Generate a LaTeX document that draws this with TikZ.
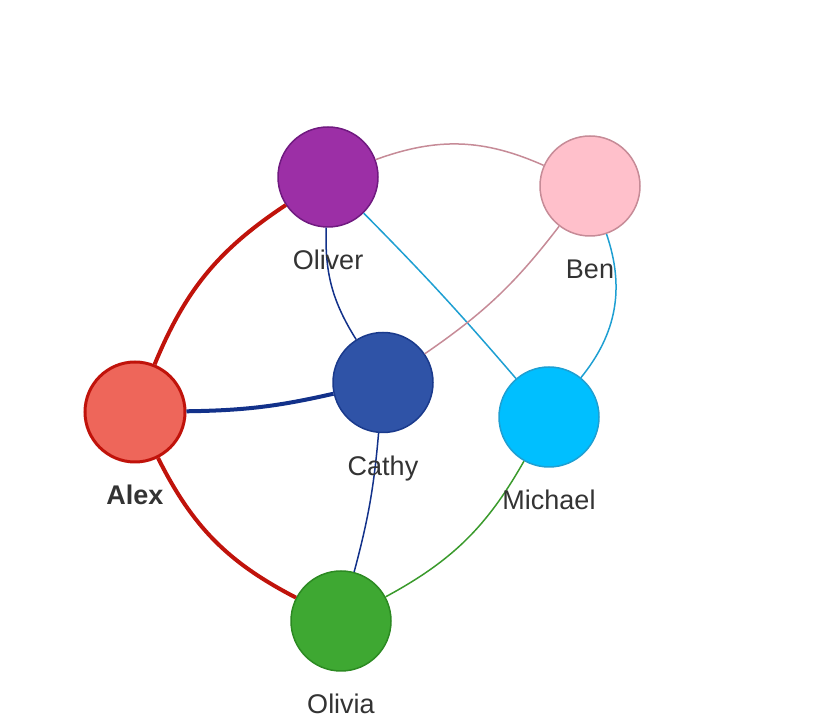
\documentclass[tikz,border=0pt]{standalone}
\usepackage{fontspec}
\setmainfont{Liberation Sans}
\definecolor{oliverFill}{HTML}{9C2FA6}
\definecolor{oliverLine}{HTML}{701A80}
\definecolor{benFill}{HTML}{FFC0CB}
\definecolor{benLine}{HTML}{C68B97}
\definecolor{alexFill}{HTML}{EE665A}
\definecolor{alexLine}{HTML}{C0130B}
\definecolor{cathyFill}{HTML}{2F53A7}
\definecolor{cathyLine}{HTML}{1A3A8C}
\definecolor{michaelFill}{HTML}{00BFFF}
\definecolor{michaelLine}{HTML}{1E9FD2}
\definecolor{oliviaFill}{HTML}{3EA832}
\definecolor{oliviaLine}{HTML}{2C8A22}
\definecolor{navyEdge}{HTML}{12318A}
\definecolor{greenEdge}{HTML}{3A9A2C}
\definecolor{labelText}{HTML}{333333}
\begin{document}
\begin{tikzpicture}[
			x=1pt, y=1pt,
			person/.style={circle, draw, line width=1.5pt, minimum size=100pt, inner sep=0pt},
			personname/.style={anchor=base, text=labelText, font=\fontsize{27}{32}\selectfont},
			thin edge/.style={line width=1.5pt},
			thick edge/.style={line width=4pt}
		]
		\useasboundingbox (0,0) rectangle (814,720);
		\node[person, fill=oliverFill, draw=oliverLine] (oliver) at (328,543) {};
		\node[person, fill=benFill, draw=benLine] (ben) at (590,534) {};
		\node[person, fill=alexFill, draw=alexLine, line width=3pt] (alex) at (135,308) {};
		\node[person, fill=cathyFill, draw=cathyLine] (cathy) at (383,337.5) {};
		\node[person, fill=michaelFill, draw=michaelLine] (michael) at (549,303) {};
		\node[person, fill=oliviaFill, draw=oliviaLine] (olivia) at (341,99) {};
		\draw[thin edge, benLine] (oliver) to[bend left=22] (ben);
		\draw[thick edge, alexLine] (oliver) to[bend right=17] (alex);
		\draw[thin edge, navyEdge] (oliver) to[bend right=17] (cathy);
		\draw[thin edge, michaelLine] (oliver) to[bend left=2] (michael);
		\draw[thin edge, benLine] (ben) to[bend left=9] (cathy);
		\draw[thin edge, michaelLine] (ben) to[bend left=29] (michael);
		\draw[thick edge, navyEdge] (alex) to[bend right=6] (cathy);
		\draw[thick edge, alexLine] (alex) to[bend right=18] (olivia);
		\draw[thin edge, navyEdge] (cathy) to[bend left=5] (olivia);
		\draw[thin edge, greenEdge] (michael) to[bend left=16] (olivia);
		\node[personname] (oliverName) at ([yshift=-93pt]oliver.center) {Oliver};
		\node[personname] (benName) at ([yshift=-93pt]ben.center) {Ben};
		\node[personname, font=\fontsize{27}{32}\selectfont\bfseries] (alexName) at ([yshift=-93pt]alex.center) {Alex};
		\node[personname] (cathyName) at ([yshift=-93pt]cathy.center) {Cathy};
		\node[personname] (michaelName) at ([yshift=-93pt]michael.center) {Michael};
		\node[personname] (oliviaName) at ([yshift=-93pt]olivia.center) {Olivia};
	\end{tikzpicture}
\end{document}
